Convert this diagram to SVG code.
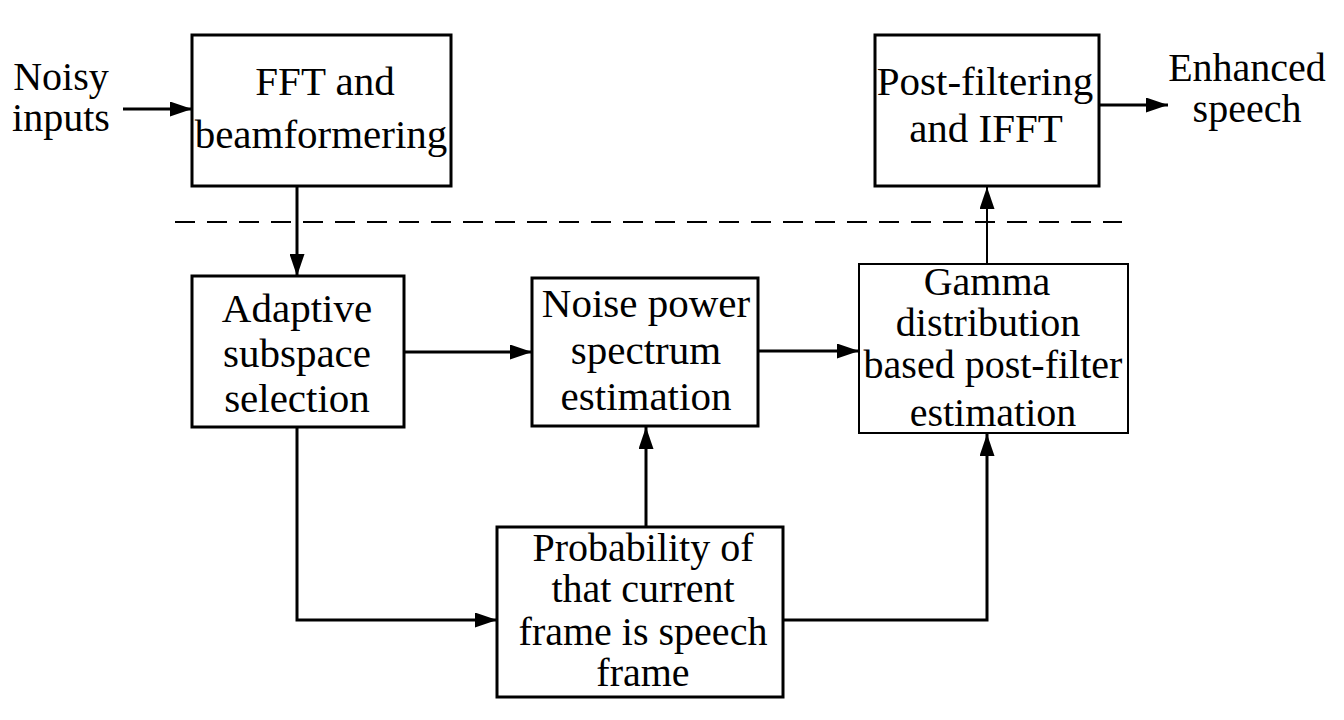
<svg xmlns="http://www.w3.org/2000/svg" width="1344" height="720" viewBox="0 0 1344 720">
<style>
text{font-family:"Liberation Serif","Times New Roman",serif;font-size:41px;fill:#000;text-anchor:middle}
text.s{font-size:40px}
.box{fill:#fff;stroke:#000;stroke-width:3}
.thin{stroke-width:2}
.c{fill:none;stroke:#000;stroke-width:3}
.ct{fill:none;stroke:#000;stroke-width:2}
.dash{fill:none;stroke:#000;stroke-width:2;stroke-dasharray:20 12}
</style>
<defs>
<marker id="ah" markerUnits="userSpaceOnUse" markerWidth="22" markerHeight="15" refX="22" refY="7.5" orient="auto">
<path d="M0,0 L22,7.5 L0,15 z" fill="#000"/>
</marker>
</defs>
<rect width="1344" height="720" fill="#fff"/>
<line class="dash" x1="175" y1="222" x2="1122" y2="222"/>
<g id="connectors">
<polyline class="c" points="123,109 192,109" marker-end="url(#ah)"/>
<polyline class="c" points="297,186 297,276" marker-end="url(#ah)"/>
<polyline class="c" points="404,352 532,352" marker-end="url(#ah)"/>
<polyline class="c" points="758,351 859,351" marker-end="url(#ah)"/>
<polyline class="ct" points="987,264 987,187" marker-end="url(#ah)"/>
<polyline class="c" points="1099,105 1168,105" marker-end="url(#ah)"/>
<polyline class="c" points="297,427 297,620 497,620" marker-end="url(#ah)"/>
<polyline class="c" points="646,527 646,427" marker-end="url(#ah)"/>
<polyline class="c" points="783,620 987,620 987,434" marker-end="url(#ah)"/>
</g>
<g id="noisy-inputs">
<text class="s"><tspan x="61" y="90">Noisy</tspan><tspan x="61" y="131">inputs</tspan></text>
</g>
<g id="fft">
<rect class="box" x="192" y="35" width="259" height="151"/>
<text><tspan x="325" y="95">FFT and</tspan><tspan x="321" y="148">beamformering</tspan></text>
</g>
<g id="post">
<rect class="box" x="875" y="35" width="224" height="151"/>
<text><tspan x="985" y="95">Post-filtering</tspan><tspan x="986" y="142">and IFFT</tspan></text>
</g>
<g id="enhanced-speech">
<text class="s"><tspan x="1247" y="81">Enhanced</tspan><tspan x="1247" y="122">speech</tspan></text>
</g>
<g id="adaptive">
<rect class="box" x="192" y="276" width="212" height="151"/>
<text><tspan x="297" y="322">Adaptive</tspan><tspan x="297" y="367">subspace</tspan><tspan x="297" y="412">selection</tspan></text>
</g>
<g id="noise">
<rect class="box" x="532" y="278" width="226" height="148"/>
<text><tspan x="646" y="317">Noise power</tspan><tspan x="646" y="364">spectrum</tspan><tspan x="646" y="410">estimation</tspan></text>
</g>
<g id="gamma">
<rect class="box thin" x="859" y="264" width="269" height="169"/>
<text class="s"><tspan x="987" y="295">Gamma</tspan><tspan x="988" y="336">distribution</tspan><tspan x="993" y="378">based post-filter</tspan><tspan x="993" y="426">estimation</tspan></text>
</g>
<g id="probability">
<rect class="box" x="497" y="527" width="286" height="170"/>
<text class="s"><tspan x="643" y="561">Probability of</tspan><tspan x="643" y="602">that current</tspan><tspan x="643" y="645">frame is speech</tspan><tspan x="643" y="686">frame</tspan></text>
</g>
</svg>
